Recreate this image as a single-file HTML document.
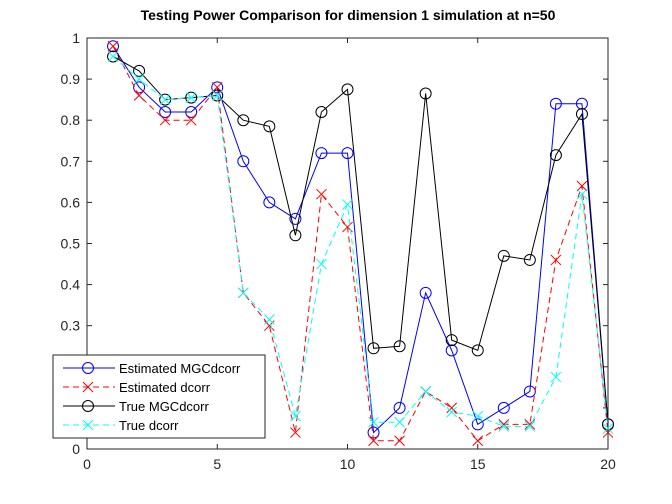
<!DOCTYPE html>
<html><head><meta charset="utf-8"><style>
html,body{margin:0;padding:0;background:#fff;}
svg{display:block;font-family:"Liberation Sans",sans-serif;}
</style></head><body>
<svg id="chart" width="672" height="504" viewBox="0 0 672 504" xmlns="http://www.w3.org/2000/svg">
<rect x="0" y="0" width="672" height="504" fill="#fff"/>
<text x="348" y="20" text-anchor="middle" font-size="14" font-weight="bold" fill="#000">Testing Power Comparison for dimension 1 simulation at n=50</text>
<g id="axes"></g>
<g id="series"></g>
<g id="legend"></g>
</svg>
<script>
const xs = [1,2,3,4,5,6,7,8,9,10,11,12,13,14,15,16,17,18,19,20];
const estMGC = [0.98,0.88,0.82,0.82,0.88,0.70,0.60,0.56,0.72,0.72,0.04,0.10,0.38,0.24,0.06,0.10,0.14,0.84,0.84,0.06];
const estDcorr = [0.98,0.86,0.80,0.80,0.88,0.38,0.30,0.04,0.62,0.54,0.02,0.02,0.14,0.10,0.02,0.06,0.06,0.46,0.64,0.04];
const trueMGC = [0.955,0.92,0.85,0.855,0.86,0.80,0.785,0.52,0.82,0.875,0.245,0.25,0.865,0.265,0.24,0.47,0.46,0.715,0.815,0.06];
const trueDcorr = [0.955,0.90,0.85,0.855,0.86,0.38,0.315,0.08,0.45,0.595,0.065,0.065,0.14,0.09,0.08,0.055,0.055,0.175,0.62,0.05];
const xTicks = [0,5,10,15,20];
const yTicks = [0,0.1,0.2,0.3,0.4,0.5,0.6,0.7,0.8,0.9,1];
const yTickLabels = ["0","0.1","0.2","0.3","0.4","0.5","0.6","0.7","0.8","0.9","1"];
const legendLabels = ["Estimated MGCdcorr","Estimated dcorr","True MGCdcorr","True dcorr"];

const L=87,R=608,T=38,B=449;
const sx=v=>L+(v-0)/(20-0)*(R-L);
const sy=v=>B-(v-0)/(1-0)*(B-T);
const NS="http://www.w3.org/2000/svg";
function mk(tag,attrs,parent){const e=document.createElementNS(NS,tag);for(const k in attrs)e.setAttribute(k,attrs[k]);parent.appendChild(e);return e;}
const axes=document.getElementById('axes');
const frame=mk('rect',{x:L,y:T,width:R-L,height:B-T,fill:'none',stroke:'#262626','stroke-width':1},axes);


xTicks.forEach(t=>{
  const x=sx(t);
  mk('line',{x1:x,x2:x,y1:B,y2:B-5,stroke:'#262626'},axes);
  mk('line',{x1:x,x2:x,y1:T,y2:T+5,stroke:'#262626'},axes);
  const tx=mk('text',{x:x,y:B+20,'text-anchor':'middle','font-size':14,fill:'#262626'},axes);
  tx.textContent=t;
  
  
});
yTicks.forEach((t,i)=>{
  const y=sy(t);
  mk('line',{x1:L,x2:L+5,y1:y,y2:y,stroke:'#262626'},axes);
  mk('line',{x1:R,x2:R-5,y1:y,y2:y,stroke:'#262626'},axes);
  const tx=mk('text',{x:L-7,y:y+5,'text-anchor':'end','font-size':14,fill:'#262626'},axes);
  tx.textContent=yTickLabels[i];
  
  
});
const seriesG=document.getElementById('series');
const defs=[
 {data:estMGC,color:'#0000ff',dash:'',marker:'o',name:'estimated-mgcdcorr'},
 {data:estDcorr,color:'#ff0000',dash:'6,4',marker:'x',name:'estimated-dcorr'},
 {data:trueMGC,color:'#000000',dash:'',marker:'o',name:'true-mgcdcorr'},
 {data:trueDcorr,color:'#00ffff',dash:'6,4',marker:'x',name:'true-dcorr'}
];
function marker(g,type,x,y,color){
  if(type==='o'){mk('circle',{cx:x,cy:y,r:5.5,fill:'none',stroke:color,'stroke-width':1},g);}
  else{const s=5;mk('path',{d:`M${x-s},${y-s}L${x+s},${y+s}M${x-s},${y+s}L${x+s},${y-s}`,stroke:color,'stroke-width':1,fill:'none'},g);}
}
defs.forEach(d=>{
  const g=mk('g',{},seriesG);
  
  
  const pts=xs.map((x,i)=>sx(x)+','+sy(d.data[i])).join(' ');
  const pl=mk('polyline',{points:pts,fill:'none',stroke:d.color,'stroke-width':1,'stroke-dasharray':d.dash},g);
  
  
  xs.forEach((x,i)=>marker(g,d.marker,sx(x),sy(d.data[i]),d.color));
});
const lg=document.getElementById('legend');


mk('rect',{x:53,y:355,width:212,height:83,fill:'#fff',stroke:'#262626','stroke-width':1},lg);
defs.forEach((d,i)=>{
  const y=368+i*19;
  const e=mk('g',{},lg);
  
  
  mk('line',{x1:63,x2:115,y1:y,y2:y,stroke:d.color,'stroke-width':1,'stroke-dasharray':d.dash},e);
  marker(e,d.marker,88,y,d.color);
  const t=mk('text',{x:119,y:y+5,'font-size':13,fill:'#000'},e);
  t.textContent=legendLabels[i];
});
</script>
</body></html>
